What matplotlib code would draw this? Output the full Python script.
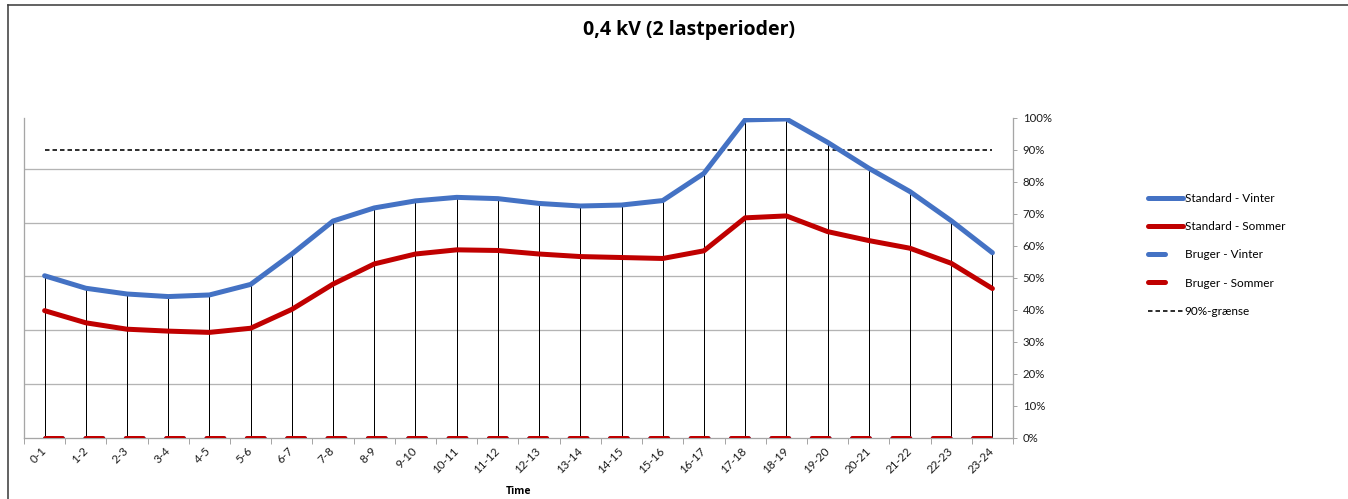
import numpy as np
import matplotlib
matplotlib.use("Agg")
import matplotlib.pyplot as plt
from matplotlib.lines import Line2D

plt.rcParams['font.family'] = ['Lato', 'DejaVu Sans']
plt.rcParams['lines.scale_dashes'] = False

# ---------------- data ----------------
categories = ["0-1", "1-2", "2-3", "3-4", "4-5", "5-6", "6-7", "7-8", "8-9", "9-10",
              "10-11", "11-12", "12-13", "13-14", "14-15", "15-16", "16-17", "17-18",
              "18-19", "19-20", "20-21", "21-22", "22-23", "23-24"]
standard_vinter = [50.7, 46.8, 45.0, 44.2, 44.7, 48.0, 57.5, 67.8, 71.9, 74.1, 75.2, 74.8,
                   73.3, 72.5, 72.8, 74.2, 82.7, 99.4, 99.7, 92.4, 84.3, 77.0, 67.9, 57.9]
standard_sommer = [39.8, 36.0, 34.0, 33.4, 33.0, 34.3, 40.2, 48.1, 54.4, 57.5, 58.8, 58.6,
                   57.5, 56.7, 56.4, 56.1, 58.5, 68.8, 69.4, 64.5, 61.7, 59.3, 54.6, 46.7]
bruger_vinter = [0.0] * 24
bruger_sommer = [0.0] * 24
graense = [90.0] * 24
y_ticks = [0, 10, 20, 30, 40, 50, 60, 70, 80, 90, 100]

title = "0,4 kV (2 lastperioder)"
x_label = "Time"
labels = ["Standard - Vinter", "Standard - Sommer", "Bruger - Vinter",
          "Bruger - Sommer", "90%-grænse"]

# ---------------- style ----------------
W, H = 1348, 499
BLUE = "#4472C4"
RED = "#C00000"
GRAY = "#A6A6A6"
PX = 0.72  # points per pixel at dpi 100
grid_step = 16.83  # primary-axis gridline spacing in % units
BOLD_FONT = ['Open Sans', 'DejaVu Sans']

fig = plt.figure(figsize=(W / 100, H / 100), dpi=100)
ax_left, ax_right, ax_bottom, ax_top = 24, 1013, 438, 118
ax = fig.add_axes([ax_left / W, 1 - ax_bottom / H, (ax_right - ax_left) / W,
                   (ax_bottom - ax_top) / H])

x = np.arange(len(categories))
ax.set_xlim(-0.5, len(categories) - 0.5)
ax.set_ylim(0, 100)

# gridlines (primary axis, irregular w.r.t. secondary)
for k in range(1, 6):
    ax.axhline(k * grid_step, color="#B4B4B4", lw=1.3 * PX, zorder=1)

# drop lines
top = np.maximum(np.array(standard_vinter), np.array(standard_sommer))
ax.vlines(x, 0, top, color="black", lw=1.0 * PX, zorder=2)

lw = 5 * PX
l1, = ax.plot(x, standard_vinter, color=BLUE, lw=lw, solid_capstyle="round",
              solid_joinstyle="round", zorder=4)
l2, = ax.plot(x, standard_sommer, color=RED, lw=lw, solid_capstyle="round",
              solid_joinstyle="round", zorder=4)
period_px = 40.35
on_px = 17
dash = (0, (on_px * PX, (period_px - on_px) * PX))
l3, = ax.plot(x, bruger_vinter, color=BLUE, lw=lw, linestyle=dash,
              dash_capstyle="round", zorder=3)
l4, = ax.plot(x, bruger_sommer, color=RED, lw=lw, linestyle=dash,
              dash_capstyle="round", zorder=3)
l5, = ax.plot(x, graense, color="black", lw=1.6 * PX,
              linestyle=(0, (4.5 * PX, 3 * PX)), zorder=3)

# spines
ax.spines["top"].set_visible(False)
for s in ["left", "right", "bottom"]:
    ax.spines[s].set_color(GRAY)
    ax.spines[s].set_linewidth(1.3 * PX)

# y axis on right
ax.yaxis.tick_right()
ax.set_yticks(y_ticks)
ax.set_yticklabels([f"{v}%" for v in y_ticks])
ax.tick_params(axis="y", direction="out", length=3, width=1 * PX, color=GRAY,
               labelsize=8.2, pad=4, labelcolor="#1a1a1a")

# x axis
ax.set_xticks(x)
ax.set_xticklabels(categories, rotation=45, ha="right", va="center",
                   rotation_mode="anchor")
ax.set_xticks(np.arange(-0.5, len(categories)), minor=True)
ax.tick_params(axis="x", which="major", length=0, labelsize=8.4, pad=8,
               labelcolor="#1a1a1a")
ax.tick_params(axis="x", which="minor", direction="out", length=4,
               width=1 * PX, color=GRAY)
ax.set_xlabel(x_label, fontsize=7.5, fontweight="bold", family=BOLD_FONT)
ax.xaxis.set_label_coords(0.5, (ax_bottom - 491) / (ax_bottom - ax_top))
ax.xaxis.label.set_va("center")

# title
fig.text(689 / W, 1 - 30 / H, title, ha="center", va="center",
         fontsize=14, fontweight="bold", family=BOLD_FONT)

# legend
leg = fig.legend([l1, l2, l3, l4, l5], labels, loc="center left",
                 bbox_to_anchor=(1148 / W, 1 - 255 / H), frameon=False,
                 fontsize=8.5, handlelength=3.0, handletextpad=0.1,
                 labelspacing=1.45, borderpad=0, borderaxespad=0)

# chart border
fig.add_artist(Line2D([8 / W, 1], [1 - 5 / H, 1 - 5 / H], color="#404040",
                      lw=1.6 * PX, transform=fig.transFigure))
fig.add_artist(Line2D([8 / W, 8 / W], [0, 1 - 5 / H], color="#404040",
                      lw=1.6 * PX, transform=fig.transFigure))

fig.savefig("out.png", dpi=100)
